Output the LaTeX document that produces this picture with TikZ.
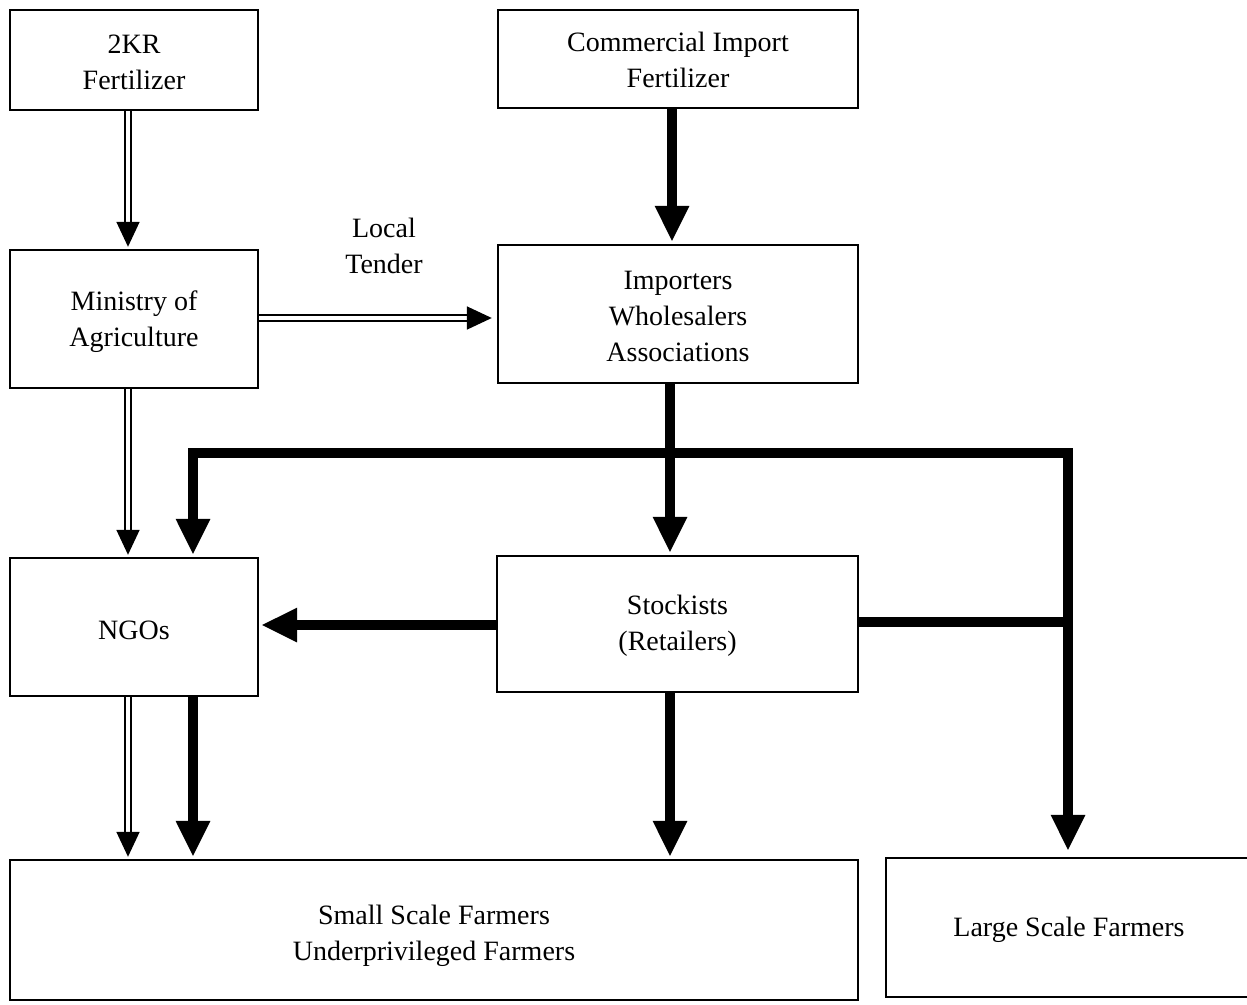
\documentclass[tikz,border=0pt]{standalone}
\usepackage{fontspec}
\setmainfont{Liberation Serif}
\usetikzlibrary{arrows.meta}
\begin{document}
\begin{tikzpicture}[x=1pt,y=-1pt,
  box/.style={draw,line width=2.4pt,rectangle,inner sep=0pt},
  boxtext/.style={align=center,inner sep=0pt,font=\fontsize{28}{36}\selectfont},
  thickarrow/.style={line width=10pt,line join=miter,-{Triangle[width=32pt,length=36pt]},shorten >=2pt},
  dblarrow/.style={double,double distance=3.5pt,line width=1.8pt,-{Triangle[width=23pt,length=25pt]},shorten >=2pt},
  lbl/.style={align=center,font=\fontsize{28}{36}\selectfont}]
\useasboundingbox (0,0) rectangle (1247,1004);
\fill[white] (0,0) rectangle (1247,1004);
\node[box,minimum width=248pt,minimum height=100pt] (kr) at (134,60) {};
\node[box,minimum width=360pt,minimum height=98pt] (com) at (678,59) {};
\node[box,minimum width=248pt,minimum height=138pt] (min) at (134,319) {};
\node[box,minimum width=360pt,minimum height=138pt] (imp) at (678,314) {};
\node[box,minimum width=248pt,minimum height=138pt] (ngo) at (134,627) {};
\node[box,minimum width=361pt,minimum height=136pt] (stk) at (677.5,624) {};
\node[box,minimum width=848pt,minimum height=140pt] (small) at (434,930) {};
\node[box,minimum width=366pt,minimum height=139pt] (large) at (1069,927.5) {};

\node[boxtext] (krT) at (134,62) {2KR\\Fertilizer};
\node[boxtext] (comT) at (678,60) {Commercial Import\\Fertilizer};
\node[boxtext] (minT) at (134,322) {Ministry of\\Agriculture};
\node[boxtext] (impT) at (678,316) {Importers\\Wholesalers\\Associations};
\node[boxtext] (ngoT) at (134,630) {NGOs};
\node[boxtext] (stkT) at (677.5,626) {Stockists\\(Retailers)};
\node[boxtext] (smallT) at (434,936) {Small Scale Farmers\\Underprivileged Farmers};
\node[boxtext] (largeT) at (1069,930) {Large Scale Farmers};
\node[lbl] (tender) at (384,246) {Local\\Tender};

\coordinate (xL) at (128,0);
\coordinate (xT) at (193,0);
\coordinate (jM) at (670,453);
\coordinate (jL) at (193,453);
\coordinate (jR) at (1068,453);
\coordinate (sR) at (1068,622);
\coordinate (hS) at (0,625);
\coordinate (hM) at (0,318);
\coordinate (xC) at (672,0);

\draw[dblarrow] (kr.south -| xL) -- (min.north -| xL);
\draw[dblarrow] (min.east |- hM) -- ([xshift=-3pt]imp.west |- hM);
\draw[dblarrow] (min.south -| xL) -- (ngo.north -| xL);
\draw[dblarrow] (ngo.south -| xL) -- (small.north -| xL);

\draw[thickarrow] (com.south -| xC) -- (imp.north -| xC);
\draw[thickarrow] (imp.south -| jM) -- (stk.north -| jM);
\draw[line width=10pt,line join=miter,{Triangle[width=32pt,length=36pt]}-{Triangle[width=32pt,length=36pt]},shorten <=2pt,shorten >=6pt]
  (ngo.north -| jL) -- (jL) -- (jR) -- (large.north -| jR);
\draw[line width=10pt] (stk.east |- sR) -- (sR);
\draw[thickarrow] (stk.west |- hS) -- (ngo.east |- hS);
\draw[thickarrow] (ngo.south -| xT) -- (small.north -| xT);
\draw[thickarrow] (stk.south -| jM) -- (small.north -| jM);
\end{tikzpicture}
\end{document}
